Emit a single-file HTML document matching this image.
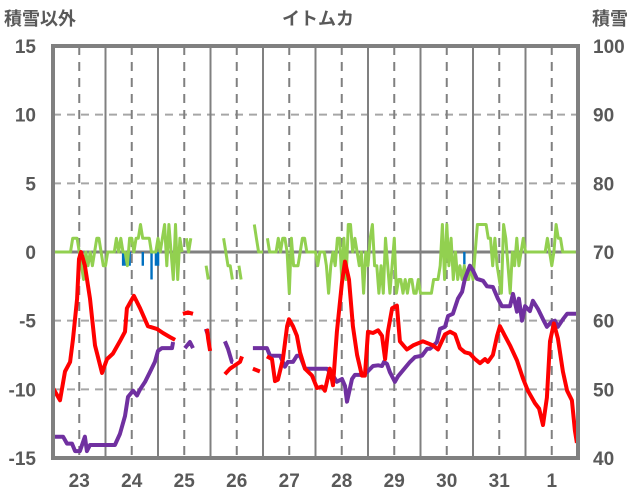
<!DOCTYPE html>
<html><head><meta charset="utf-8"><style>
body{margin:0;background:#fff}
svg{display:block;font-family:"Liberation Sans","Noto Sans CJK JP",sans-serif}
</style></head><body>
<svg id="c" width="636" height="501" viewBox="0 0 636 501">
<text x="40" y="25" font-size="18" font-weight="bold" fill="#595959" text-anchor="middle">積雪以外</text>
<text x="318" y="25" font-size="18" font-weight="bold" fill="#595959" text-anchor="middle">イトムカ</text>
<text x="610" y="25" font-size="18" font-weight="bold" fill="#595959" text-anchor="middle">積雪</text>
<g id="grid"></g><g id="marks"></g><g id="labels"></g>
</svg>
<script>
const leftTicks=[15,10,5,0,-5,-10,-15];
const rightTicks=[100,90,80,70,60,50,40];
const dayLabels=["23","24","25","26","27","28","29","30","31","1"];
// hours since chart start
const tempHours=[0,3.2,5.5,7.8,9.1,11,11.9,12.8,14.6,16.9,19.2,22.4,24.7,27.4,30.6,32.9,33.8,37,39.8,43.4,47.5,50.3,53.5,55.8,null,59.4,61.7,64,null,70.4,70.9,71.8,null,78.6,80.9,85.5,86.4,null,91.4,94.6,null,97.8,100.1,101.5,102.8,105.1,107,107.9,109.7,111.5,112.9,115.2,118.4,120.7,123,124.3,126.6,128,129.8,132.1,133.5,135.3,137.1,139,141.2,142.6,144,146.3,148.6,150.4,151.8,153.1,155,157.2,158.6,161.8,164.6,169.1,173.7,176,179.2,181.5,183.8,186,188.3,190.6,192.9,195.2,197.5,198.8,201.1,203,204.3,206.6,208.9,212.1,214.8,217.1,220.3,222.2,224,225.8,227.2,229,230.8,233.1,235,237.2,238.6,239.5];
const tempValues=[-9.9,-10.8,-8.7,-8.0,-6.4,-3.4,-0.5,0,-1.0,-3.4,-6.8,-8.8,-7.8,-7.4,-6.5,-5.8,-4.1,-3.2,-4.1,-5.4,-5.6,-5.9,-6.2,-6.4,null,-4.5,-4.4,-4.5,null,-5.6,-6.3,-7.2,null,-8.9,-8.5,-8.0,-7.6,null,-8.5,-8.7,null,-7.6,-7.8,-9.4,-9.3,-7.8,-5.4,-4.9,-5.4,-6.1,-7.3,-8.5,-9.0,-9.9,-9.8,-10.1,-8.5,-9.7,-5.8,-2.2,-0.7,-2.0,-5.4,-7.5,-9.0,-9.0,-5.8,-5.9,-5.7,-6.1,-7.8,-5.8,-4.1,-3.9,-6.5,-7.1,-6.8,-6.5,-6.8,-7.1,-6.0,-5.8,-6.0,-7.0,-7.3,-7.4,-7.8,-8.1,-7.8,-8.0,-7.5,-6.1,-5.4,-6.1,-6.8,-7.9,-9.2,-10.1,-11.0,-11.4,-12.6,-10.6,-6.5,-5.2,-6.3,-8.7,-10.1,-10.8,-13.0,-13.9];
const snowHours=[0,4.6,6.4,8.7,10.1,12.3,14.6,15.5,16.9,28.3,30.6,32.9,34.3,36.6,38.4,39.8,42.1,44.3,46.6,48,49.8,54.4,54.9,null,60.3,62.6,64,null,69.9,70.9,null,78.6,80,81.8,82.3,null,91.4,97.8,99.2,103.8,106,107.4,109.7,111.5,112.9,115.2,125.2,128,129.8,132.1,133.5,134.4,136.7,138,141.7,143.5,146.3,148.6,150.4,151.3,152.7,154,156.3,157.7,163.2,165.5,168.7,171,172.3,173.7,175.5,176.9,179.2,180.6,182.8,185.1,187,188.3,190.6,192,193.8,196.6,198.4,201.1,203.4,205.2,208.9,210.3,212.1,213,214.4,215.8,218,219.4,221.7,224,225.8,228.1,229.5,230.8,233.1,235,239.5];
const snowValues=[43.1,43.1,42.1,42.1,41,41,43.1,41,41.9,41.9,43.5,46.1,48.9,49.8,49.1,50,51.1,52.5,54,55.6,56,56,56.9,null,56,56.9,56,null,58.8,57.8,null,57,55.9,54,54,null,56,56,54.9,54.9,53.3,54,54,54.9,54.9,53,53,52,51.1,51.5,50.5,48.2,51.5,52.1,52.1,52.5,53.4,53.5,53.4,54,53.7,52.5,51.1,51.9,54,54.7,54.9,55.9,55.9,56.3,56.9,58.8,59.1,60.7,61,63.2,64.2,66.1,68,67.3,66.1,65.8,65,64.9,63.2,62.1,62.1,63.9,61.3,63.2,60,62.1,61.4,62.9,61.7,60.2,59.1,59.9,60,59.1,60.2,61,61];
const windValues=[0,0,0,0,0,0,0,0,0,1,1,1,0,-1,-2,0,-1,0,-1,0,1,1,0,-1,-1,0,0,0,0,1,0,1,0,0,-1,1,1,0,1,1,2,1,1,1,1,0,0,0,1,0,1,2,-1,2,0,-2,2,-2,1,0,null,1,0,1,null,null,null,null,null,null,-1,-2,null,null,null,null,null,null,1,0,-1,-1,-2,null,null,-1,-2,null,null,null,null,null,2,1,0,0,0,null,1,0,0,0,0,1,0,1,1,0,-3,1,-1,-1,-1,0,1,1,0,0,0,0,0,-1,0,0,0,-1,-3,-1,0,-1,1,1,-2,1,-2,2,2,0,1,0,-1,0,-3,0,-1,1,2,-1,-1,-3,-1,-3,1,-1,-3,-1,1,-3,-2,-2,-3,-2,-3,-2,-2,-3,-3,-2,-3,-3,-3,-3,-3,-3,-2,-2,-2,-1,2,-2,2,-1,1,-2,0,-2,-1,-2,-1,-2,-2,-1,-2,0,2,2,2,2,2,1,1,-1,1,-1,-2,-3,2,1,-1,-3,0,-1,1,-1,0,1,0,0,0,0,0,0,0,0,0,0,1,0,-1,0,2,1,1,0,0,0,0,0,0,0];
const precipHours=[32,33,35,41,45,47,48,188];
const precipValues=[-1,-1,-1,-1,-2,-1,-1,-0.9];

const L=53,R=578,T=46,B=458,NS="http://www.w3.org/2000/svg";
const xH=h=>L+h*(R-L)/240;
const yL=v=>T+(15-v)*(B-T)/30;
const yR=v=>T+(100-v)*(B-T)/60;
function mk(tag,attrs,parent){const e=document.createElementNS(NS,tag);for(const k in attrs)e.setAttribute(k,attrs[k]);parent.appendChild(e);return e;}
const grid=document.getElementById('grid'),marks=document.getElementById('marks'),labels=document.getElementById('labels');
// horizontal grid
leftTicks.forEach((v,i)=>{
  if(v!==15&&v!==-15&&v!==0){const g=mk('line',{x1:L,x2:R,y1:yL(v),y2:yL(v),stroke:'#a6a6a6','stroke-width':2,'stroke-dasharray':'8,6'},grid);
  
  }
  const t=mk('text',{x:36,y:yL(v)+7,'font-size':19,'font-weight':'bold',fill:'#595959','text-anchor':'end'},labels);t.textContent=v;
  
  
  const r=mk('text',{x:593,y:yR(rightTicks[i])+7,'font-size':19,'font-weight':'bold',fill:'#595959','text-anchor':'start'},labels);r.textContent=rightTicks[i];
  
  
});
// vertical grid
dayLabels.forEach((d,i)=>{
  const xc=xH(12+24*i);
  const dl=mk('line',{x1:xc,x2:xc,y1:T,y2:B,stroke:'#808080','stroke-width':2,'stroke-dasharray':'9,7'},grid);
  
  
  if(i<9){const xs=xH(24+24*i);const sl=mk('line',{x1:xs,x2:xs,y1:T,y2:B,stroke:'#808080','stroke-width':2},grid);
  
  }
  const t=mk('text',{x:xc,y:487,'font-size':19,'font-weight':'bold',fill:'#595959','text-anchor':'middle'},labels);t.textContent=d;
  
  
});
const z=mk('line',{x1:L,x2:R,y1:yL(0),y2:yL(0),stroke:'#808080','stroke-width':3},grid);


// precip bars
precipHours.forEach((h,i)=>{
  const b=mk('rect',{x:xH(h)-1.1,y:yL(0),width:2.4,height:yL(precipValues[i])-yL(0),fill:'#0070C0'},marks);
  
  
});
function pathFrom(xs,ys,fy){let d='',pen=false;for(let i=0;i<ys.length;i++){if(ys[i]===null||xs[i]===null){pen=false;continue;}d+=(pen?'L':'M')+xH(xs[i]).toFixed(1)+','+fy(ys[i]).toFixed(1);pen=true;}return d;}
const windHours=windValues.map((v,i)=>i);
const wl=mk('path',{d:pathFrom(windHours,windValues,yL),fill:'none',stroke:'#92D050','stroke-width':3,'stroke-linejoin':'round'},marks);


const sn=mk('path',{d:pathFrom(snowHours,snowValues,yR),fill:'none',stroke:'#7030A0','stroke-width':4,'stroke-linejoin':'round'},marks);


const tl=mk('path',{d:pathFrom(tempHours,tempValues,yL),fill:'none',stroke:'#FF0000','stroke-width':4,'stroke-linejoin':'round'},marks);


const fr=mk('rect',{x:L,y:T,width:R-L,height:B-T,fill:'none',stroke:'#808080','stroke-width':4},marks);


</script>
</body></html>
